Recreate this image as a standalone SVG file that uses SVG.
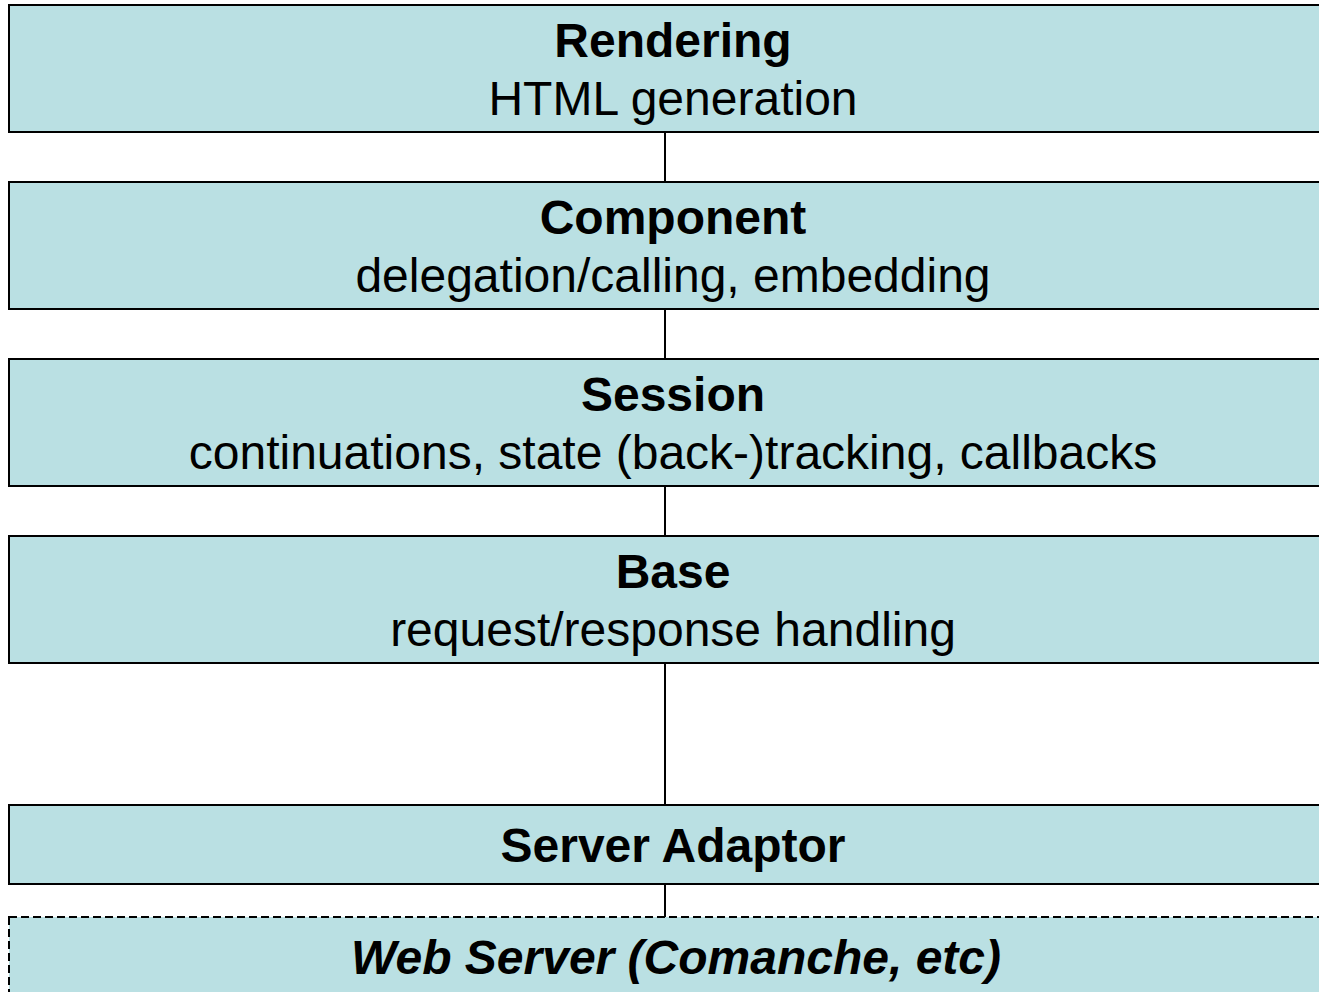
<svg xmlns="http://www.w3.org/2000/svg" width="1319" height="992" viewBox="0 0 1319 992">
<style>
.box{fill:#BAE0E3;stroke:#000;stroke-width:2}
.dash{stroke-dasharray:8 4}
.conn{stroke:#000;stroke-width:2;fill:none}
text{font-family:"Liberation Sans",Arial,sans-serif;text-anchor:middle;fill:#000}
.t{font-weight:bold;font-size:48px}
.s{font-size:48px}
.i{font-style:italic}
</style>
<rect width="1319" height="992" fill="#fff"/>
<g id="connectors">
<line class="conn" x1="665" y1="132" x2="665" y2="182"/>
<line class="conn" x1="665" y1="309" x2="665" y2="359"/>
<line class="conn" x1="665" y1="486" x2="665" y2="536"/>
<line class="conn" x1="665" y1="663" x2="665" y2="805"/>
<line class="conn" x1="665" y1="884" x2="665" y2="917"/>
</g>
<g id="rendering">
<rect class="box" x="9" y="5" width="1320" height="127"/>
<text class="t" x="673" y="57">Rendering</text>
<text class="s" x="673" y="115">HTML generation</text>
</g>
<g id="component">
<rect class="box" x="9" y="182" width="1320" height="127"/>
<text class="t" x="673" y="234">Component</text>
<text class="s" x="673" y="292">delegation/calling, embedding</text>
</g>
<g id="session">
<rect class="box" x="9" y="359" width="1320" height="127"/>
<text class="t" x="673" y="411">Session</text>
<text class="s" x="673" y="469">continuations, state (back-)tracking, callbacks</text>
</g>
<g id="base">
<rect class="box" x="9" y="536" width="1320" height="127"/>
<text class="t" x="673" y="588">Base</text>
<text class="s" x="673" y="646">request/response handling</text>
</g>
<g id="server-adaptor">
<rect class="box" x="9" y="805" width="1320" height="79"/>
<text class="t" x="673" y="862">Server Adaptor</text>
</g>
<g id="web-server">
<rect class="box dash" x="9" y="917" width="1320" height="100"/>
<text class="t i" x="676" y="974">Web Server (Comanche, etc)</text>
</g>
</svg>
